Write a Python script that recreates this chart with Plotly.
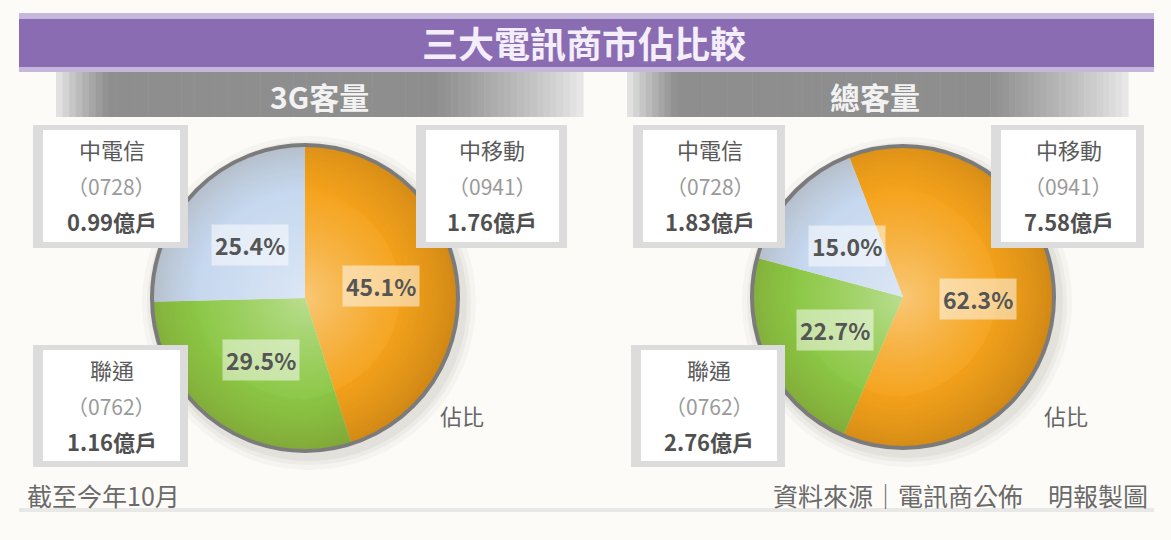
import math, zlib, struct, base64
import plotly.graph_objects as go

# ---------------- data ----------------
operators = ["中移動", "聯通", "中電信"]
stock_codes = ["0941", "0762", "0728"]
share_3g = [45.1, 29.5, 25.4]          # %
users_3g = [1.76, 1.16, 0.99]          # 億戶
share_total = [62.3, 22.7, 15.0]       # %
users_total = [7.58, 2.76, 1.83]       # 億戶
panel_titles = ["3G客量", "總客量"]
title = "三大電訊商市佔比較"
note_left = "截至今年10月"
note_right = "資料來源｜電訊商公佈　明報製圖"
share_word = "佔比"

# ---------------- styling ----------------
W, H = 1171, 540
FONT = "Noto Sans CJK TC"
slice_colors = ["#f5a31c", "#8cc846", "#c6d8ef"]

def px(x):
    return x / W

def py(y):
    return 1 - y / H

pies = [
    dict(cx=305, cy=298, r=153, rot=0, share=share_3g, users=users_3g, title=panel_titles[0],
         bar=(56, 583), title_x=319, word=(462, 415),
         boxes={2: (33, 125, 188, 248), 0: (416, 125, 567, 248), 1: (33, 345, 188, 467)}),
    dict(cx=903, cy=297, r=151, rot=-21, share=share_total, users=users_total, title=panel_titles[1],
         bar=(627, 1128), title_x=875, word=(1066, 415),
         boxes={2: (633, 125, 785, 248), 0: (991, 125, 1144, 248), 1: (631, 345, 785, 467)}),
]


def make_png(n=260):
    rows = []
    for j in range(n):
        row = bytearray()
        for i in range(n):
            dx = (i + 0.5) / n * 2 - 1
            dy = (j + 0.5) / n * 2 - 1
            rr = math.hypot(dx, dy)
            if rr > 1:
                row += bytes([0, 0, 0, 0])
                continue
            edge = min(1.0, (1 - rr) / 0.012)
            hl = max(0.0, 1 - rr / 0.8) ** 1.3 * 0.40
            sh = max(0.0, (rr - 0.55) / 0.45) ** 2 * 0.16 + 0.08 * max(0.0, dx) + 0.05 * max(0.0, dy)
            if hl > sh:
                a = hl - sh * 0.5
                row += bytes([255, 255, 255, int(max(0, min(1, a)) * 255 * edge)])
            else:
                a = sh - hl * 0.5
                row += bytes([90, 50, 0, int(max(0, min(1, a)) * 255 * edge)])
        rows.append(bytes(row))

    def chunk(t, d):
        return struct.pack(">I", len(d)) + t + d + struct.pack(">I", zlib.crc32(t + d) & 0xffffffff)

    raw = b"".join(b"\x00" + r for r in rows)
    data = (b"\x89PNG\r\n\x1a\n" + chunk(b"IHDR", struct.pack(">IIBBBBB", n, n, 8, 6, 0, 0, 0))
            + chunk(b"IDAT", zlib.compress(raw, 9)) + chunk(b"IEND", b""))
    return "data:image/png;base64," + base64.b64encode(data).decode()


shade = make_png()

fig = go.Figure()
shapes = []
annotations = []
images = []


def text(x, y, s, size, color, anchor="center"):
    annotations.append(dict(x=px(x), y=py(y), xref="paper", yref="paper", text=s, showarrow=False,
                            xanchor=anchor, yanchor="middle",
                            font=dict(family=FONT, size=size, color=color)))


# title bar
shapes.append(dict(type="rect", xref="paper", yref="paper", x0=px(19), x1=px(1154), y0=py(72), y1=py(13),
                   fillcolor="#c6b7dd", line=dict(width=0), layer="below"))
shapes.append(dict(type="rect", xref="paper", yref="paper", x0=px(19), x1=px(1154), y0=py(67), y1=py(19),
                   fillcolor="#8a6cb3", line=dict(width=0), layer="below"))
text(584, 42, "<b>" + title + "</b>", 36, "#f4eefa")

# bottom rule
shapes.append(dict(type="rect", xref="paper", yref="paper", x0=px(19), x1=px(1154), y0=py(512), y1=py(508),
                   fillcolor="#e8e8e6", line=dict(width=0), layer="below"))

for p in pies:
    cx, cy, r = p["cx"], p["cy"], p["r"]
    # gradient gray header bar
    bx0, bx1 = p["bar"]
    nstrip = 80
    for k in range(nstrip):
        t0 = k / nstrip
        t = (k + 0.5) / nstrip
        if t < 0.1:
            w = t / 0.1
        elif t > 0.72:
            w = max(0.0, 1 - (t - 0.72) / 0.28)
        else:
            w = 1.0
        w = w ** 0.8
        c = int(236 - (236 - 142) * w)
        shapes.append(dict(type="rect", xref="paper", yref="paper",
                           x0=px(bx0 + (bx1 - bx0) * t0), x1=px(bx0 + (bx1 - bx0) * (k + 1) / nstrip + 0.6),
                           y0=py(117), y1=py(72), fillcolor=f"rgb({c},{c},{c})", line=dict(width=0), layer="below"))
    text(p["title_x"], 96, "<b>" + p["title"] + "</b>", 30, "#f2f2f2")

    # soft shadow around pie
    for d, op in [(14, 0.05), (9, 0.06), (5, 0.08)]:
        shapes.append(dict(type="circle", xref="paper", yref="paper",
                           x0=px(cx - r - d + 4), x1=px(cx + r + d + 4), y0=py(cy + r + d + 5), y1=py(cy - r - d + 5),
                           fillcolor=f"rgba(120,110,90,{op})", line=dict(width=0), layer="below"))

    fig.add_trace(go.Pie(
        labels=operators, values=p["share"], sort=False, direction="clockwise", rotation=p["rot"],
        marker=dict(colors=slice_colors, line=dict(width=0)),
        textinfo="none", hoverinfo="label+percent", showlegend=False,
        domain=dict(x=[px(cx - r), px(cx + r)], y=[py(cy + r), py(cy - r)]),
    ))

    images.append(dict(source=shade, xref="paper", yref="paper", x=px(cx - r), y=py(cy - r),
                       sizex=2 * r / W, sizey=2 * r / H, xanchor="left", yanchor="top",
                       sizing="stretch", layer="above", opacity=1))

    # outer ring
    shapes.append(dict(type="circle", xref="paper", yref="paper",
                       x0=px(cx - r), x1=px(cx + r), y0=py(cy + r), y1=py(cy - r),
                       line=dict(color="#7b7b7b", width=4), fillcolor="rgba(0,0,0,0)", layer="above"))

    # percentage labels at slice mid-angles
    total = sum(p["share"])
    cum = 0.0
    for i, v in enumerate(p["share"]):
        mid = math.radians(p["rot"] + (cum + v / 2) / total * 360)
        cum += v
        lx = cx + 0.5 * r * math.sin(mid)
        ly = cy - 0.5 * r * math.cos(mid)
        annotations.append(dict(x=px(lx), y=py(ly), xref="paper", yref="paper",
                                text=f"<b>{v:.1f}%</b>", showarrow=False, xanchor="center", yanchor="middle",
                                bgcolor="rgba(255,255,255,0.5)", borderpad=3,
                                font=dict(family=FONT, size=23, color="#555555")))

    # callout boxes
    for i, (x0, y0, x1, y1) in p["boxes"].items():
        shapes.append(dict(type="rect", xref="paper", yref="paper", x0=px(x0), x1=px(x1), y0=py(y1), y1=py(y0),
                           fillcolor="#dcdcdc", line=dict(width=0), layer="above"))
        shapes.append(dict(type="rect", xref="paper", yref="paper", x0=px(x0 + 10), x1=px(x1 - 8), y0=py(y1 - 6), y1=py(y0 + 5),
                           fillcolor="#ffffff", line=dict(width=0), layer="above"))
        mx = (x0 + x1) / 2 + 1
        text(mx, y0 + 24, operators[i], 22, "#5a5a5a")
        text(mx, y0 + 61, f"（{stock_codes[i]}）", 21, "#9a9a9a")
        text(mx, y0 + 96, f"<b>{p['users'][i]:.2f}億戶</b>", 22, "#505050")

    text(p["word"][0], p["word"][1], share_word, 22, "#666666")

text(25, 495, note_left, 25, "#6a6a6a", anchor="left")
text(1150, 495, note_right, 25, "#6a6a6a", anchor="right")

fig.update_layout(
    width=W, height=H, margin=dict(l=0, r=0, t=0, b=0),
    paper_bgcolor="#fcfbf8", plot_bgcolor="#fcfbf8",
    shapes=shapes, annotations=annotations, images=images,
    showlegend=False,
)

fig.write_html("out.html", config={"displayModeBar": False},
               post_script="document.body.style.margin='0';document.body.style.overflow='hidden';")
